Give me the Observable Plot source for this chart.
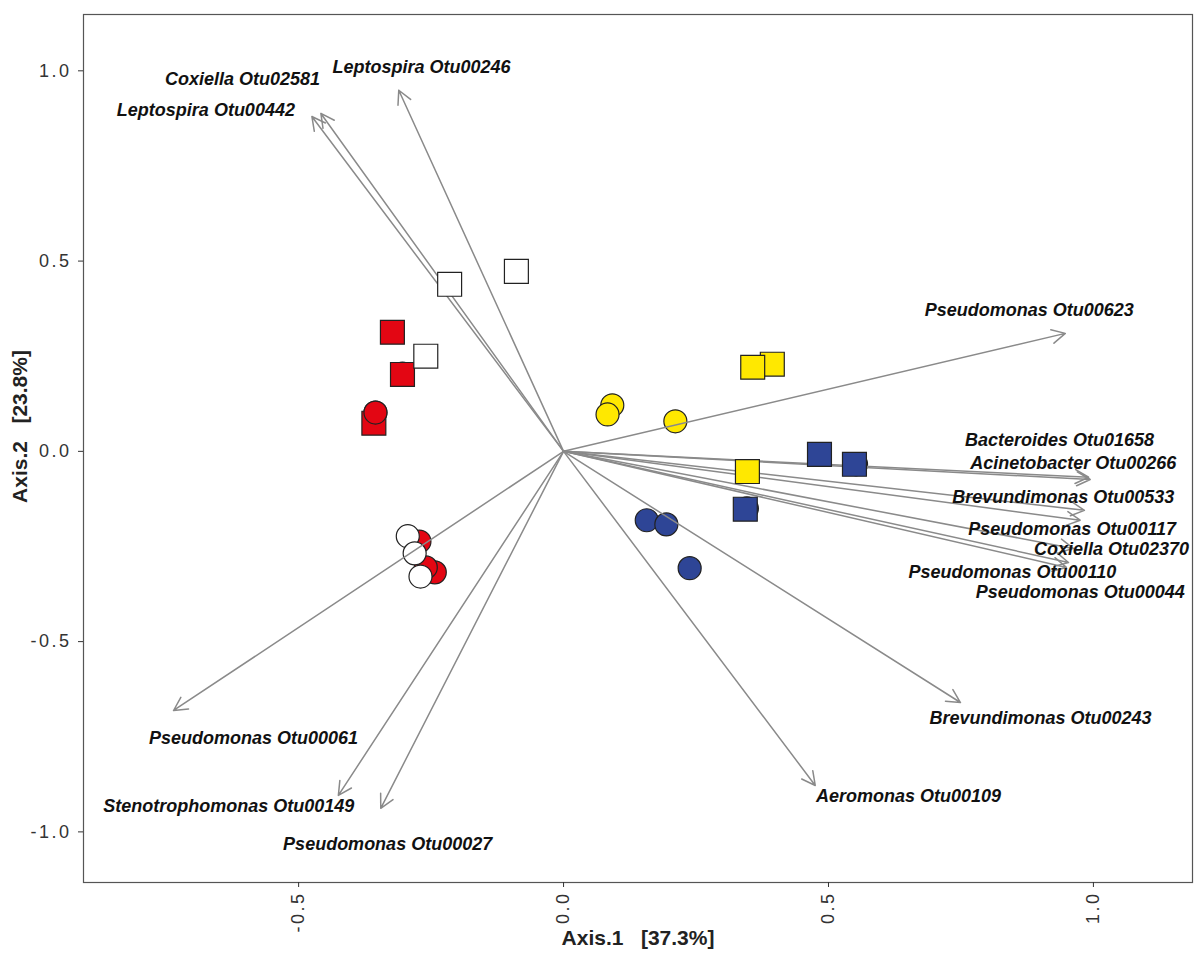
<!DOCTYPE html>
<html>
<head>
<meta charset="utf-8">
<script src="https://cdn.jsdelivr.net/npm/d3@7"></script>
<script src="https://cdn.jsdelivr.net/npm/@observablehq/plot@0.6"></script>
<style>
  html, body { margin: 0; padding: 0; background: #fff; }
  #chart svg { display: block; }
  #chart svg g[aria-label="x-axis tick label"] text,
  #chart svg g[aria-label="y-axis tick label"] text { letter-spacing: 2.5px; }
</style>
</head>
<body>
<div id="chart"></div>
<script>
// ---- Sample scores (ordination axes) ----
const circleX     = [-0.304, -0.355, -0.272, -0.243, -0.260, -0.294, -0.281, -0.270, 0.092, 0.083, 0.211, 0.346, 0.552, 0.157, 0.194, 0.238];
const circleY     = [ 0.204,  0.102, -0.237, -0.318, -0.305, -0.223, -0.268, -0.329, 0.121, 0.097, 0.079, -0.150, -0.034, -0.181, -0.192, -0.307];
const circleGroup = ["Group A", "Group A", "Group A", "Group A", "Group A", "Group B", "Group B", "Group B", "Group C", "Group C", "Group C", "Group D", "Group D", "Group D", "Group D", "Group D"];

const squareX     = [-0.323, -0.304, -0.358, -0.215, -0.089, -0.260, 0.394, 0.357, 0.347, 0.483, 0.549, 0.343];
const squareY     = [ 0.313,  0.202,  0.074,  0.439,  0.473,  0.250, 0.229, 0.221, -0.053, -0.008, -0.034, -0.152];
const squareGroup = ["Group A", "Group A", "Group A", "Group B", "Group B", "Group B", "Group C", "Group C", "Group C", "Group D", "Group D", "Group D"];

const groups      = ["Group A", "Group B", "Group C", "Group D"];
const groupColors = ["#e30613", "#ffffff", "#ffe800", "#2e4596"];

// ---- Taxa loadings (arrows) ----
const taxa = [
  "Leptospira Otu00246", "Coxiella Otu02581", "Leptospira Otu00442", "Pseudomonas Otu00623",
  "Bacteroides Otu01658", "Acinetobacter Otu00266", "Brevundimonas Otu00533", "Pseudomonas Otu00117",
  "Coxiella Otu02370", "Pseudomonas Otu00110", "Pseudomonas Otu00044", "Brevundimonas Otu00243",
  "Aeromonas Otu00109", "Pseudomonas Otu00061", "Stenotrophomonas Otu00149", "Pseudomonas Otu00027"
];
const taxaX = [-0.311, -0.458, -0.475, 0.947, 0.991, 0.994, 0.983, 0.975, 0.962, 0.953, 0.949, 0.749, 0.475, -0.736, -0.425, -0.345];
const taxaY = [ 0.949,  0.888,  0.880, 0.310, -0.068, -0.074, -0.155, -0.181, -0.255, -0.292, -0.305, -0.660, -0.878, -0.681, -0.904, -0.938];
// label anchor positions (data units, repelled from the tips)
const labelX = [-0.268, -0.606, -0.675, 0.879, 0.936, 0.962, 0.943, 0.960, 1.034, 0.847, 0.975, 0.900, 0.651, -0.585, -0.632, -0.332];
const labelY = [ 1.009,  0.978,  0.896, 0.371, 0.029, -0.032, -0.121, -0.205, -0.258, -0.317, -0.369, -0.702, -0.907, -0.754, -0.933, -1.033];

// ---- Axes ----
const xTicks = [-0.5, 0.0, 0.5, 1.0];
const yTicks = [-1.0, -0.5, 0.0, 0.5, 1.0];
const xTitle = "Axis.1\u00a0\u00a0\u00a0[37.3%]";
const yTitle = "Axis.2\u00a0\u00a0\u00a0[23.8%]";

// ---- Build tables ----
const circles = circleX.map((x, i) => ({x, y: circleY[i], group: circleGroup[i]}));
const squares = squareX.map((x, i) => ({x, y: squareY[i], group: squareGroup[i]}));
const arrows = taxa.map((name, i) => ({name, x: taxaX[i], y: taxaY[i], lx: labelX[i], ly: labelY[i]}));
const topCircles = circles.filter(d => d.group === "Group A" && d.y > 0 && d.y < 0.15);

const fmt = d => d.toFixed(1);
const titleFont = "'Liberation Sans Narrow', 'Arial Narrow', 'Liberation Sans', sans-serif";

const chart = Plot.plot({
  width: 1195,
  height: 954,
  marginLeft: 83,
  marginRight: 3,
  marginTop: 14,
  marginBottom: 72,
  style: {fontFamily: "'Liberation Sans', Arial, sans-serif", background: "#fff", color: "#333"},
  x: {domain: [-0.906, 1.187]},
  y: {domain: [-1.133, 1.148]},
  color: {type: "ordinal", domain: groups, range: groupColors},
  marks: [
    Plot.frame({stroke: "#555", strokeWidth: 1.2}),
    Plot.axisX({ticks: xTicks, tickFormat: fmt, tickRotate: -90, tickSize: 5, tickPadding: 4,
                fontSize: 18, label: null, stroke: "#333", fill: "#333"}),
    Plot.axisY({ticks: yTicks, tickFormat: fmt, tickSize: 5, tickPadding: 7,
                fontSize: 18, label: null, stroke: "#333", fill: "#333"}),
    // circles (below arrows)
    Plot.dot(circles, {x: "x", y: "y", fill: "group", r: 11.5, stroke: "#222", strokeWidth: 1.2}),
    // arrows from origin
    Plot.arrow(arrows, {x1: d => 0, y1: d => 0, x2: "x", y2: "y", stroke: "#8a8a8a",
                        strokeWidth: 1.5, headLength: 15, headAngle: 55}),
    // squares (above arrows)
    Plot.dot(squares, {x: "x", y: "y", fill: "group", symbol: "square", r: 13.5, stroke: "#222", strokeWidth: 1.2}),
    Plot.dot(topCircles, {x: "x", y: "y", fill: "group", r: 11.5, stroke: "#222", strokeWidth: 1.2}),
    // taxa labels
    Plot.text(arrows, {x: "lx", y: "ly", text: "name", fontSize: 18, fontWeight: "bold",
                       fontStyle: "italic", fill: "#111", textAnchor: "middle"}),
    // axis titles
    Plot.text([xTitle], {frameAnchor: "bottom", dy: 62, text: d => d, fontSize: 21, textAnchor: "middle",
                         fontWeight: "bold", fontFamily: titleFont, fill: "#222"}),
    Plot.text([yTitle], {frameAnchor: "left", dx: -63, dy: -22, rotate: -90, text: d => d, fontSize: 21, textAnchor: "middle",
                         fontWeight: "bold", fontFamily: titleFont, fill: "#222"})
  ]
});

document.getElementById("chart").appendChild(chart);
</script>
</body>
</html>
